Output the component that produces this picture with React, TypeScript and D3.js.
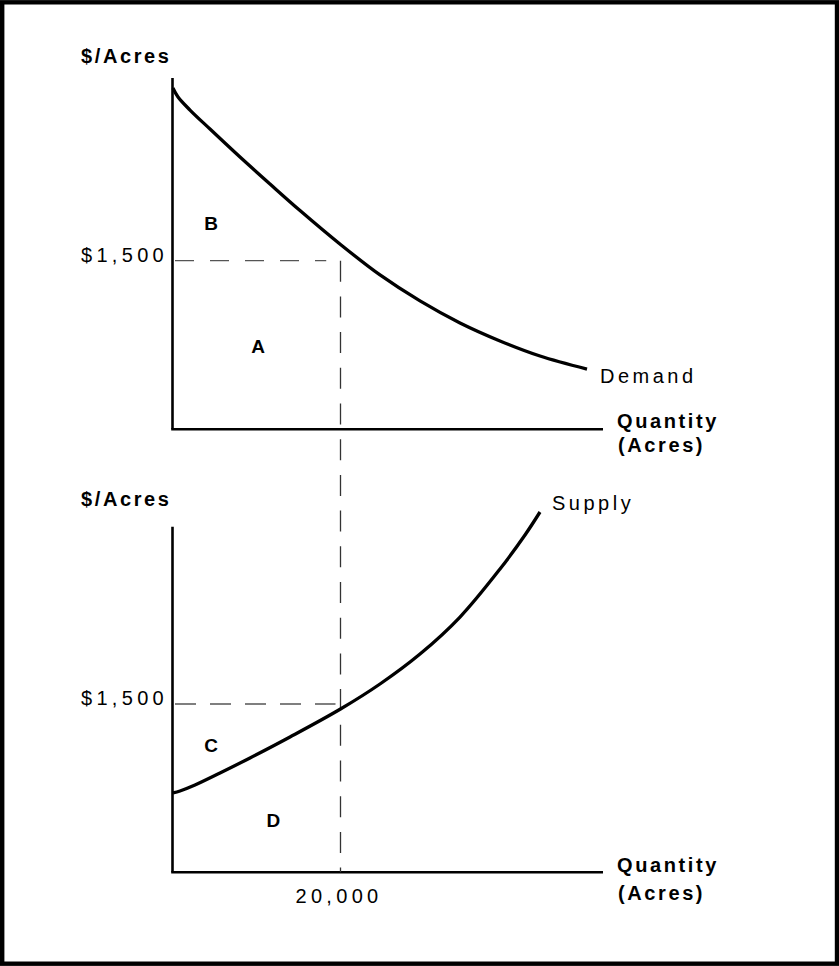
import React from "react";
import * as d3 from "d3";

// Demand curve (quantity in acres, price in $/acre)
const demandQty = [50, 655, 2083, 4464, 8036, 11607, 15179, 20000, 24702, 29464, 34226, 38988, 43750, 49345];
const demandPrice = [3036, 2956, 2840, 2671, 2422, 2182, 1946, 1644, 1373, 1142, 946, 786, 652, 536];

// Supply curve
const supplyQty = [60, 893, 2679, 5655, 9226, 13988, 20000, 24702, 29464, 34226, 38988, 41964, 43750];
const supplyPrice = [707, 725, 778, 885, 1019, 1206, 1455, 1678, 1945, 2275, 2703, 3006, 3211];

const eqQty = 20000;
const eqPrice = 1500;
const priceTickLabel = "$1,500";
const qtyTickLabel = "20,000";
const yAxisLabel = "$/Acres";
const xAxisLabel = ["Quantity", "(Acres)"];
const areaLabels = ["B", "A", "C", "D"];
const areaQty = [4600, 10200, 4600, 12000];
const areaPrice = [1773, 679, 1072, 404];

const W = 839;
const H = 966;
const FONT = "'Liberation Sans', Arial, Helvetica, sans-serif";

export default function App() {
  const x = d3.scaleLinear().domain([0, 51250]).range([172.5, 603]);
  const yTop = d3.scaleLinear().domain([0, 3125]).range([429.3, 78]);
  const yBot = d3.scaleLinear().domain([0, 3080]).range([872.3, 526.7]);

  const demandPts: [number, number][] = demandQty.map((q, i) => [x(q), yTop(demandPrice[i])]);
  const supplyPts: [number, number][] = supplyQty.map((q, i) => [x(q), yBot(supplyPrice[i])]);
  const line = d3.line().curve(d3.curveCatmullRom.alpha(0.5));

  const regular: React.CSSProperties = { fontFamily: FONT, fontSize: 20, letterSpacing: 3.5 };
  const numeric: React.CSSProperties = { ...regular, letterSpacing: 4.3 };
  const bold: React.CSSProperties = { fontFamily: FONT, fontSize: 20, fontWeight: 700, letterSpacing: 2.6 };

  const [x0, x1] = x.range();
  const areaY = [yTop, yTop, yBot, yBot];

  return (
    <svg width={W} height={H} style={{ position: "absolute", left: 0, top: 0, background: "#fff" }}>
      <rect x={2.2} y={2.3} width={W - 4.2} height={H - 4.6} fill="#fff" stroke="#000" strokeWidth={4.4} />

      {/* axes */}
      <line x1={x0} x2={x0} y1={yTop.range()[1]} y2={yTop(0)} stroke="#000" strokeWidth={2.6} />
      <line x1={x0 - 1.3} x2={x1} y1={yTop(0)} y2={yTop(0)} stroke="#000" strokeWidth={2.6} />
      <line x1={x0} x2={x0} y1={yBot.range()[1]} y2={yBot(0)} stroke="#000" strokeWidth={2.6} />
      <line x1={x0 - 1.3} x2={x1} y1={yBot(0)} y2={yBot(0)} stroke="#000" strokeWidth={2.6} />

      {/* dashed guides */}
      <line x1={x0 + 2.5} x2={x(18300)} y1={yTop(eqPrice)} y2={yTop(eqPrice)} stroke="#555" strokeWidth={1.3} strokeDasharray="19 16" />
      <line x1={x0 + 2.5} x2={x(eqQty) - 5} y1={yBot(eqPrice)} y2={yBot(eqPrice)} stroke="#555" strokeWidth={1.3} strokeDasharray="21 14" />
      <line x1={x(eqQty)} x2={x(eqQty)} y1={yTop(eqPrice)} y2={yBot(0)} stroke="#333" strokeWidth={1.3} strokeDasharray="21 14.7" />

      {/* curves */}
      <path d={line(demandPts) ?? ""} fill="none" stroke="#000" strokeWidth={3.3} strokeLinecap="butt" />
      <path d={line(supplyPts) ?? ""} fill="none" stroke="#000" strokeWidth={3.3} strokeLinecap="butt" />

      {/* y-axis titles */}
      <text x={81} y={63} style={bold}>{yAxisLabel}</text>
      <text x={81} y={506} style={bold}>{yAxisLabel}</text>

      {/* price tick labels */}
      <text x={81} y={yTop(eqPrice) + 1.5} style={numeric}>{priceTickLabel}</text>
      <text x={81} y={yBot(eqPrice) + 1.5} style={numeric}>{priceTickLabel}</text>

      {/* quantity tick label */}
      <text x={x(eqQty) - 45} y={903} style={numeric}>{qtyTickLabel}</text>

      {/* x-axis titles */}
      <text x={617} y={428} style={bold}>{xAxisLabel[0]}</text>
      <text x={618} y={452} style={bold}>{xAxisLabel[1]}</text>
      <text x={617} y={872} style={bold}>{xAxisLabel[0]}</text>
      <text x={618} y={900} style={bold}>{xAxisLabel[1]}</text>

      {/* curve labels */}
      <text x={600} y={383} style={regular}>Demand</text>
      <text x={552} y={510} style={regular}>Supply</text>

      {/* area labels */}
      {areaLabels.map((lab, i) => (
        <text key={lab} x={x(areaQty[i])} y={areaY[i](areaPrice[i])} style={{ ...bold, fontSize: 19, letterSpacing: 0 }} textAnchor="middle">
          {lab}
        </text>
      ))}
    </svg>
  );
}
